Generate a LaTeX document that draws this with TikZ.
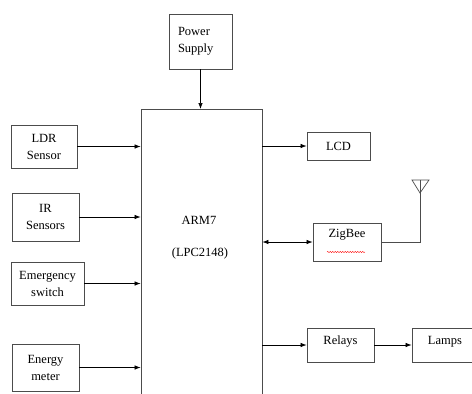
\documentclass[tikz,border=0pt]{standalone}
\usepackage{fontspec}
\setmainfont{Liberation Serif}
\usepackage{tikz}
\usetikzlibrary{arrows.meta}
\usetikzlibrary{decorations.pathmorphing}

\tikzset{
  blk/.style={draw=black!70, line width=0.8pt, align=center, inner sep=2pt},
  arr/.style={-{Latex[length=6pt,width=4.5pt]}, line width=0.7pt},
  dblarr/.style={{Latex[length=6pt,width=4.5pt]}-{Latex[length=6pt,width=4.5pt]}, line width=0.7pt}
}

\begin{document}
\begin{tikzpicture}[x=1pt,y=-1pt,font=\fontsize{12.5}{17}\selectfont]
        \path[use as bounding box, clip] (0,0) rectangle (472,394);
        % main controller, open at the bottom
        \node[blk, minimum width=121pt, minimum height=330pt, anchor=north] (arm) at (201.5,109) {};
        \node (armname) at (199,220) {ARM7};
        \node (armpart) at (200,253) {(LPC2148)};

        \node[blk, minimum width=63pt, minimum height=55pt, text width=45pt, align=left] (power) at (200.5,41.5) {Power\\Supply};

        \node[blk, minimum width=66pt, minimum height=43pt] (ldr) at (44,146.5) {LDR\\Sensor};
        \node[blk, minimum width=67pt, minimum height=48pt] (ir) at (45.5,217) {IR\\Sensors};
        \node[blk, minimum width=73pt, minimum height=43pt] (emerg) at (47.5,283.5) {Emergency\\switch};
        \node[blk, minimum width=67pt, minimum height=47pt] (energy) at (45.5,367.5) {Energy\\meter};

        \node[blk, minimum width=63pt, minimum height=28pt] (lcd) at (338.5,146) {LCD};
        \node[blk, minimum width=68pt, minimum height=38pt, label={[yshift=7pt]center:ZigBee}] (zigbee) at (347,242) {};
        \node[blk, minimum width=67pt, minimum height=34pt, label={[yshift=3pt]center:Relays}] (relays) at (340.5,345) {};
        \node[blk, minimum width=66pt, minimum height=34pt, label={[yshift=3pt]center:Lamps}] (lamps) at (445,345) {};

        \draw[arr] (power.south) -- (power.south |- arm.north);
        \draw[arr] (ldr.east) -- (ldr.east -| arm.west);
        \draw[arr] (ir.east) -- (ir.east -| arm.west);
        \draw[arr] (emerg.east) -- (emerg.east -| arm.west);
        \draw[arr] (energy.east) -- (energy.east -| arm.west);
        \draw[arr] (arm.east |- lcd.west) -- (lcd.west);
        \draw[dblarr] (arm.east |- zigbee.west) -- (zigbee.west);
        \draw[arr] (arm.east |- relays.west) -- (relays.west);
        \draw[arr] (relays.east) -- (lamps.west);

        % antenna
        \coordinate (anttop) at (420,180);
        \coordinate (antbase) at (420,242);
        \draw[black!70, line width=0.7pt] (412,180) -- (429,180) -- (420,193) -- cycle;
        \draw[black!70, line width=0.7pt] (anttop) -- (antbase) -- (zigbee.east);

        % spell-check squiggle
        \draw[red, line width=0.4pt, decorate, decoration={snake, amplitude=0.6pt, segment length=2.5pt}] (327,252) -- (365,252);
      \end{tikzpicture}
\end{document}
